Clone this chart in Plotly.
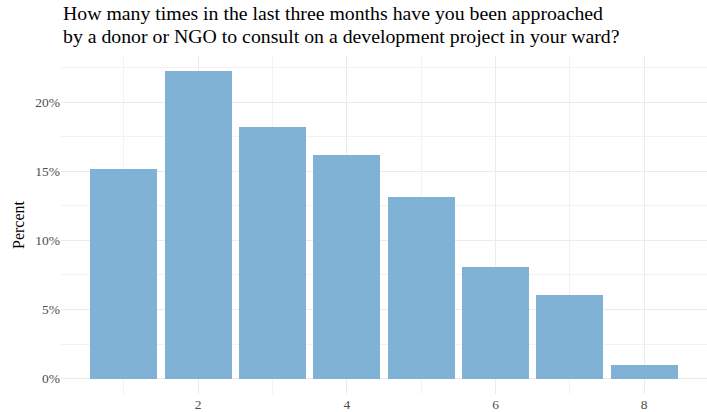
import plotly.graph_objects as go

times = [1, 2, 3, 4, 5, 6, 7, 8]
counts = [15, 22, 18, 16, 13, 8, 6, 1]
total = sum(counts)
percent = [c / total * 100 for c in counts]
x_ticks = [2, 4, 6, 8]
y_ticks = [0, 5, 10, 15, 20]
y_labels = ["0%", "5%", "10%", "15%", "20%"]
title_lines = [
    "How many times in the last three months have you been approached",
    "by a donor or NGO to consult on a development project in your ward?",
]

fig = go.Figure(go.Bar(x=times, y=percent, width=0.9, marker=dict(color="#7FB2D5", line=dict(width=0))))

T, B = 56, 18
ph = 412 - T - B
fig.update_layout(
    width=707, height=412,
    margin=dict(l=61, r=0, t=T, b=B, autoexpand=False),
    plot_bgcolor="white", paper_bgcolor="white",
    font=dict(family="Liberation Serif", color="#4D4D4D"),
    showlegend=False,
    bargap=0,
)
for i, line in enumerate(title_lines):
    fig.add_annotation(
        text=line, xref="paper", yref="paper",
        x=0, y=1 + (T - 0 - 22.5 * i) / ph, xanchor="left", yanchor="top", align="left",
        showarrow=False, font=dict(family="Liberation Serif", size=19.8, color="black"),
    )
fig.update_xaxes(
    range=[0.155, 8.845], tickvals=x_ticks, ticktext=[str(v) for v in x_ticks],
    showgrid=True, gridcolor="#EBEBEB", gridwidth=1.3, zeroline=False, automargin=False,
    showline=False, ticks="", tickfont=dict(size=13.5, color="#4D4D4D"),
    minor=dict(tickvals=[1, 3, 5, 7], showgrid=True, gridcolor="#F2F2F2", gridwidth=0.9),
)
fig.update_yaxes(
    range=[-1.111, 23.333], tickvals=y_ticks, ticktext=y_labels,
    showgrid=True, gridcolor="#EBEBEB", gridwidth=1.3, zeroline=False, automargin=False,
    showline=False, ticks="", tickfont=dict(size=13.5, color="#4D4D4D"),
    minor=dict(tickvals=[2.5, 7.5, 12.5, 17.5, 22.5], showgrid=True, gridcolor="#F2F2F2", gridwidth=0.9),
    title=dict(text="Percent", font=dict(size=16, color="black"), standoff=6),
)

fig.write_html(
    "out.html",
    config={"displayModeBar": False},
    post_script="document.body.style.margin='0';document.body.style.overflow='hidden';",
)
